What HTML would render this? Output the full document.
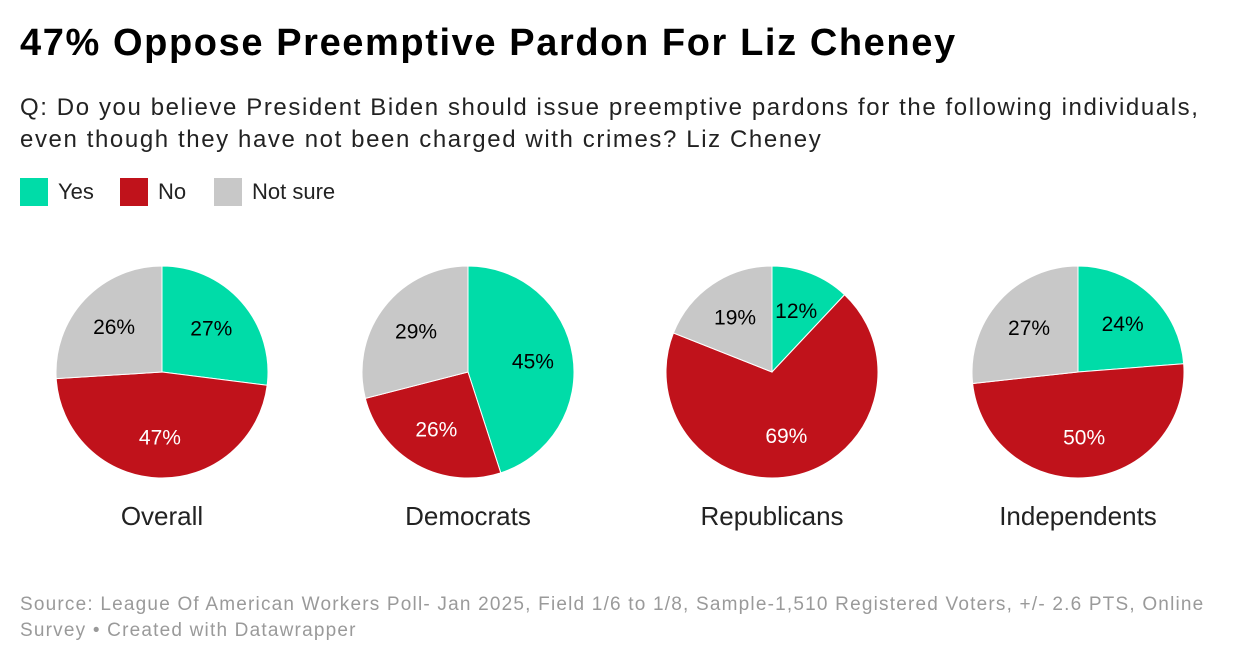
<!DOCTYPE html>
<html><head><meta charset="utf-8"><style>
body{margin:0;width:1240px;height:664px;background:#fff;font-family:"Liberation Sans",Arial,sans-serif;overflow:hidden;position:relative}
.t{position:absolute;left:20px;top:22px;font-size:38px;font-weight:bold;color:#000;letter-spacing:1.6px;white-space:nowrap}
.s{position:absolute;left:20px;top:92px;font-size:24px;line-height:32px;color:#222;letter-spacing:1.6px;white-space:nowrap}
.lg{position:absolute;top:178px;font-size:22px;color:#222;display:flex;align-items:center}
.lg i{display:inline-block;width:28px;height:28px;margin-right:10px}
.f{position:absolute;left:20px;top:592px;font-size:19px;line-height:26px;color:#9a9a9a;letter-spacing:1.2px;white-space:nowrap}
</style></head><body>
<div class="t">47% Oppose Preemptive Pardon For Liz Cheney</div>
<div class="s">Q: Do you believe President Biden should issue preemptive pardons for the following individuals,<br>even though they have not been charged with crimes? Liz Cheney</div>
<div class="lg" style="left:20px"><i style="background:#00dca8"></i>Yes</div>
<div class="lg" style="left:120px"><i style="background:#c0121b"></i>No</div>
<div class="lg" style="left:214px"><i style="background:#c8c8c8"></i>Not sure</div>
<svg id="c" width="1240" height="664" style="position:absolute;left:0;top:0"></svg>
<div class="f">Source: League Of American Workers Poll- Jan 2025, Field 1/6 to 1/8, Sample-1,510 Registered Voters, +/- 2.6 PTS, Online<br>Survey • Created with Datawrapper</div>
<script>
const groups=["Overall","Democrats","Republicans","Independents"];
const yesVals=[27,45,12,24];
const noVals=[47,26,69,50];
const notSureVals=[26,29,19,27];
const colors=["#00dca8","#c0121b","#c8c8c8"];
const textColors=["#000","#fff","#000"];
const centersX=[162,468,772,1078], cy=372, r=106;
const svg=document.getElementById('c'), NS="http://www.w3.org/2000/svg";
function mk(t,a){const e=document.createElementNS(NS,t);for(const k in a)e.setAttribute(k,a[k]);svg.appendChild(e);return e;}
groups.forEach((g,gi)=>{
  const vals=[yesVals[gi],noVals[gi],notSureVals[gi]];
  const tot=vals.reduce((a,b)=>a+b,0);
  const cx=centersX[gi];let a0=0;
  vals.forEach((v,si)=>{
    const a1=a0+v/tot*2*Math.PI;
    const p=(a)=>[cx+r*Math.sin(a),cy-r*Math.cos(a)];
    const [x0,y0]=p(a0),[x1,y1]=p(a1);
    const path=mk('path',{d:`M${cx},${cy}L${x0},${y0}A${r},${r} 0 ${a1-a0>Math.PI?1:0} 1 ${x1},${y1}Z`,fill:colors[si],stroke:'#fff','stroke-width':1});
    
    
    const m=(a0+a1)/2;
    const tx=mk('text',{x:cx+0.62*r*Math.sin(m),y:cy-0.62*r*Math.cos(m)+7,'text-anchor':'middle','font-size':21,fill:textColors[si]});
    tx.textContent=v+'%';
    
    
    a0=a1;
  });
  const lt=mk('text',{x:cx,y:525,'text-anchor':'middle','font-size':26,fill:'#222'});
  lt.textContent=g;
  
  
});
</script>
</body></html>
